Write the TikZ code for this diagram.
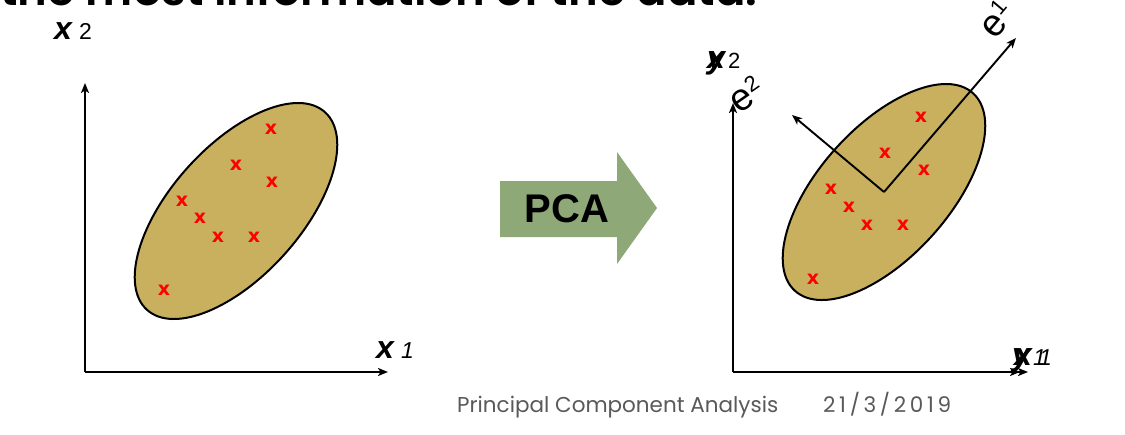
\documentclass[tikz,border=0pt]{standalone}
\usepackage{fontspec}
\setmainfont{Liberation Sans}
\newfontfamily\footfont{Poppins}
\newfontfamily\datefont[LetterSpace=17]{Poppins}
\newfontfamily\titlefont{Poppins SemiBold}
\newfontfamily\crossfont{DejaVu Sans}
\usetikzlibrary{arrows.meta}
\definecolor{ellfill}{RGB}{200,176,94}
\definecolor{pcagreen}{RGB}{143,168,120}
\definecolor{footgray}{RGB}{89,89,89}
\begin{document}
\begin{tikzpicture}[x=1pt,y=-1pt,
  axis/.style={line width=1.9pt,-{Stealth[length=10pt,width=8pt,inset=2.5pt]}},
  blob/.style={draw=black,line width=2pt,fill=ellfill},
  cross/.style={text=red,font=\crossfont\bfseries\fontsize{19}{19}\selectfont,inner sep=0pt},
  axlabel/.style={inner sep=0pt,anchor=base west,font=\fontsize{32}{32}\selectfont\bfseries\itshape},
  sublabel/.style={inner sep=0pt,anchor=base west,font=\fontsize{23}{23}\selectfont\itshape},
  elabel/.style={inner sep=0pt,font=\fontsize{38}{38}\selectfont},
  foot/.style={inner sep=0pt,anchor=base west,text=footgray,font=\footfont\fontsize{21.5}{21.5}\selectfont}]
\useasboundingbox (0,0) rectangle (1125,434);
\clip (0,0) rectangle (1125,434);
% clipped title line
\node[inner sep=0pt,anchor=base west,text depth=0pt,font=\titlefont\fontsize{45}{45}\selectfont] (title) at (0,5) {the most information of the data.};
% ---------------- left panel
\coordinate (o1) at (85,372);
\coordinate (y1top) at (85,83);
\coordinate (x1end) at (388,372);
\coordinate (c1) at (236,211);
\draw[blob,rotate around={48:(c1)}] (c1) ellipse [x radius=133, y radius=65];
\draw[axis] (o1) -- (y1top);
\draw[axis] (o1) -- (x1end);
\node[axlabel] (lx2) at (54,39) {x};
\node[sublabel,font=\fontsize{23}{23}\selectfont] (lx2s) at (79,39) {2};
\node[axlabel] (lx1) at (376,358) {x};
\node[sublabel] (lx1s) at (401,358) {1};
\foreach \i/\p in {a/{(271,129)},b/{(236,165)},c/{(272,182)},d/{(182,201)},e/{(200,218)},f/{(218,237)},g/{(254,237)},h/{(164,290)}}
  \node[cross] (l\i) at \p {x};
% ---------------- PCA arrow
\coordinate (pa1) at (500,181);
\coordinate (pa2) at (617,181);
\coordinate (pa3) at (617,152);
\coordinate (pa4) at (657,208);
\coordinate (pa5) at (617,264);
\coordinate (pa6) at (617,237);
\coordinate (pa7) at (500,237);
\fill[pcagreen] (pa1) -- (pa2) -- (pa3) -- (pa4) -- (pa5) -- (pa6) -- (pa7) -- cycle;
\node[inner sep=0pt,font=\fontsize{40}{40}\selectfont\bfseries] (pca) at (567,209) {PCA};
% ---------------- right panel
\coordinate (o2) at (733,372);
\coordinate (y2top) at (733,103);
\coordinate (x2end) at (1028,372);
\coordinate (x2endb) at (1020,372);
\coordinate (c2) at (884,192);
\coordinate (e1end) at (1016,38);
\coordinate (e2end) at (792,115);
\draw[blob,rotate around={48:(c2)}] (c2) ellipse [x radius=133, y radius=65];
\foreach \i/\p in {a/{(921,117)},b/{(885,153)},c/{(924,170)},d/{(831,189)},e/{(849,207)},f/{(867,225)},g/{(903,225)},h/{(813,279)}}
  \node[cross] (r\i) at \p {x};
\draw[axis] (o2) -- (y2top);
\draw[axis] (o2) -- (x2end);
\draw[axis] (o2) -- (x2endb);
\draw[axis] (c2) -- (e1end);
\draw[axis] (c2) -- (e2end);
% right axis labels (overlapping x / y)
\node[axlabel] (rx2) at (707,68) {x};
\node[axlabel] (ry2) at (707,68) {y};
\node[sublabel,font=\fontsize{22}{22}\selectfont] (rx2s) at (728,68) {2};
\node[axlabel] (rx1) at (1014,365) {x};
\node[axlabel] (ry1) at (1012,365) {y};
\node[sublabel] (rx1s) at (1033,365) {1};
\node[sublabel] (ry1s) at (1039,365) {1};
% eigenvector labels
\node[elabel,rotate=35] (e2lab) at (746,94) {e\raisebox{11pt}{\fontsize{22}{22}\selectfont 2}};
\node[elabel,rotate=50] (e1lab) at (996,19) {e\raisebox{11pt}{\fontsize{22}{22}\selectfont 1}};
% footer
\node[foot] (ft1) at (457,412) {Principal Component Analysis};
\node[foot,font=\datefont\fontsize{21.5}{21.5}\selectfont] (ft2) at (823,412) {21/3/2019};
\end{tikzpicture}
\end{document}
